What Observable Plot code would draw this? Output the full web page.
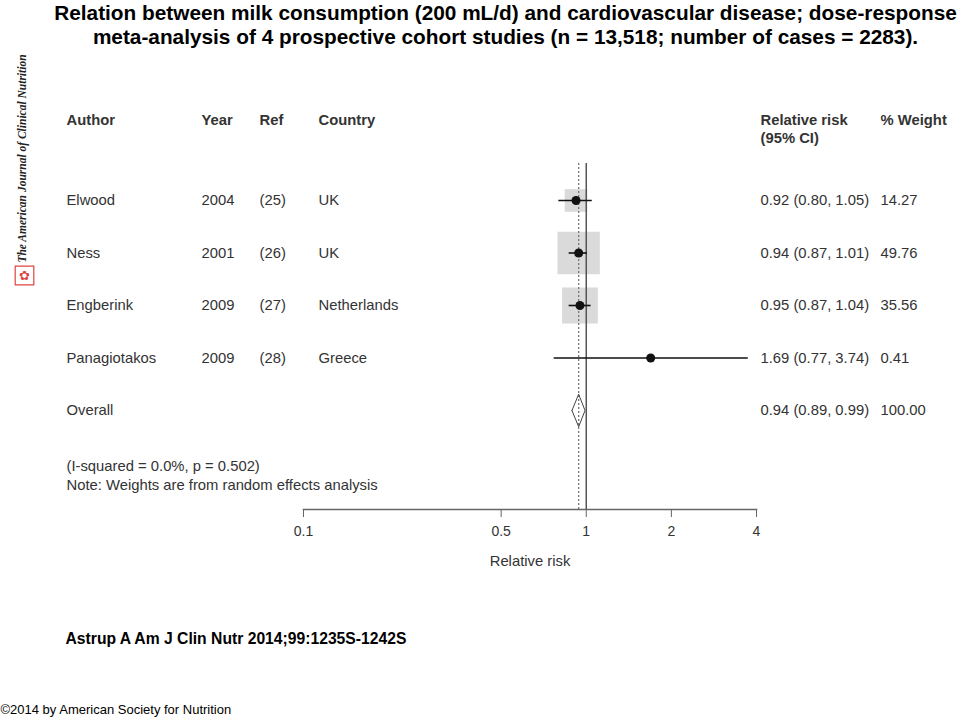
<!DOCTYPE html>
<html><head><meta charset="utf-8">
<script src="https://cdn.jsdelivr.net/npm/d3@7"></script>
<script src="https://cdn.jsdelivr.net/npm/@observablehq/plot@0.6"></script>
<style>body{margin:0;background:#fff;}</style>
</head><body><div id="chart"></div>
<script>
// ---- data ----
const authors = ["Elwood", "Ness", "Engberink", "Panagiotakos"];
const years = [2004, 2001, 2009, 2009];
const refs = ["(25)", "(26)", "(27)", "(28)"];
const countries = ["UK", "UK", "Netherlands", "Greece"];
const rr = [0.92, 0.94, 0.95, 1.69];
const lo = [0.80, 0.87, 0.87, 0.77];
const hi = [1.05, 1.01, 1.04, 3.74];
const weights = [14.27, 49.76, 35.56, 0.41];
const overallRR = 0.94, overallLo = 0.89, overallHi = 0.99, overallWeight = 100.00;
const xTicks = [0.1, 0.5, 1, 2, 4];
const xTickLabels = ["0.1", "0.5", "1", "2", "4"];
const titleText = "Relation between milk consumption (200 mL/d) and cardiovascular disease; dose-response\nmeta-analysis of 4 prospective cohort studies (n = 13,518; number of cases = 2283).";
const heterogeneity = "(I-squared = 0.0%, p = 0.502)";
const noteText = "Note: Weights are from random effects analysis";
const citation = "Astrup A Am J Clin Nutr 2014;99:1235S-1242S";
const copyright = "©2014 by American Society for Nutrition";
const journal = "The American Journal of Clinical Nutrition";

// ---- layout ----
const W = 960, H = 717;
const FL = 303, FR = 756, FT = 163, FB = 509;
const col = {author: 66, year: 201, ref: 259, country: 318, ci: 760, wt: 880};
const f2 = v => v.toFixed(2);

const studies = authors.map((a, i) => ({
  i, author: a, year: String(years[i]), ref: refs[i], country: countries[i],
  rr: rr[i], lo: lo[i], hi: hi[i], w: weights[i],
  ci: `${f2(rr[i])} (${f2(lo[i])}, ${f2(hi[i])})`, wt: f2(weights[i])
}));
const oi = authors.length;
const tableRows = [...studies, {i: oi, author: "Overall", year: "", ref: "", country: "",
  ci: `${f2(overallRR)} (${f2(overallLo)}, ${f2(overallHi)})`, wt: f2(overallWeight)}];
const dh = 0.31;
const diamond = [
  {x: overallLo, y: oi}, {x: overallRR, y: oi - dh}, {x: overallHi, y: oi},
  {x: overallRR, y: oi + dh}, {x: overallLo, y: oi}
];

const txt = "#333";
const fs = 14.8;
const font = "'Liberation Sans', Arial, Helvetica, sans-serif";
const colText = (key, opts = {}) => Plot.text(tableRows, {
  y: "i", text: key, frameAnchor: "left", dx: col[key] - FL,
  textAnchor: "start", lineAnchor: "middle", fontSize: fs, fill: txt, ...opts
});
const free = (s, px, py, opts = {}) => Plot.text([s], {
  frameAnchor: "top-left", dx: px - FL, dy: py - FT,
  textAnchor: "start", lineAnchor: "middle", fontSize: fs, fill: txt, ...opts
});

const chart = Plot.plot({
  width: W, height: H,
  marginLeft: FL, marginRight: W - FR, marginTop: FT, marginBottom: H - FB,
  style: {fontFamily: font, background: "#fff"},
  x: {type: "log", domain: [0.1, 4], axis: null},
  y: {type: "linear", domain: [0, oi], range: [200, 410], axis: null},
  r: {type: "sqrt", domain: [0, 100], range: [0, 33.85]},
  marks: [
    // weight boxes
    Plot.dot(studies, {x: "rr", y: "i", r: "w", symbol: "square", fill: "#dadada", stroke: "none"}),
    // reference lines
    Plot.ruleX([1], {stroke: "#555", strokeWidth: 1.5}),
    Plot.ruleX([overallRR], {stroke: "#777", strokeWidth: 1.3, strokeDasharray: "2,2"}),
    // confidence intervals and estimates
    Plot.ruleY(studies, {y: "i", x1: "lo", x2: "hi", stroke: "#111", strokeWidth: 1.6}),
    Plot.dot(studies, {x: "rr", y: "i", r: 4.5, fill: "#111", stroke: "none"}),
    // overall diamond
    Plot.line(diamond, {x: "x", y: "y", stroke: "#444", strokeWidth: 1, curve: "linear"}),
    // axis
    Plot.frame({anchor: "bottom", stroke: "#666", strokeWidth: 1.6}),
    Plot.axisX({ticks: xTicks, tickSize: 8, tickPadding: 9, fontSize: 14, stroke: "#666", color: txt,
      tickFormat: d => xTickLabels[xTicks.indexOf(d)], label: null}),
    Plot.text(["Relative risk"], {frameAnchor: "bottom", dy: 52, fontSize: fs, fill: txt, lineAnchor: "middle"}),
    // table
    colText("author"), colText("year"), colText("ref"), colText("country"),
    colText("ci"), colText("wt"),
    free("Author", col.author, 120, {fontWeight: "bold"}),
    free("Year", col.year, 120, {fontWeight: "bold"}),
    free("Ref", col.ref, 120, {fontWeight: "bold"}),
    free("Country", col.country, 120, {fontWeight: "bold"}),
    free("Relative risk", col.ci, 120, {fontWeight: "bold"}),
    free("(95% CI)", col.ci, 138, {fontWeight: "bold"}),
    free("% Weight", col.wt, 120, {fontWeight: "bold"}),
    free(heterogeneity, col.author, 466),
    free(noteText, col.author, 485),
    // title & captions
    Plot.text([titleText], {frameAnchor: "top-left", dx: 505 - FL, dy: 23.5 - FT, textAnchor: "middle",
      lineAnchor: "middle", lineHeight: 1.2, fontSize: 20.8, fontWeight: "bold", fill: "#000"}),
    free(citation, 65, 638, {fontSize: 15.7, fontWeight: "bold", fill: "#000"}),
    free(copyright, 0, 709, {fontSize: 13, fill: "#000"}),
    // journal side label and logo
    Plot.text([journal], {frameAnchor: "top-left", dx: 22 - FL, dy: 158 - FT, rotate: -90,
      textAnchor: "middle", lineAnchor: "middle", fontSize: 11.5, fontStyle: "italic", fontWeight: "bold",
      fontFamily: "'Liberation Serif', 'DejaVu Serif', serif", fill: "#222"}),
    Plot.dot([0], {frameAnchor: "top-left", dx: 24 - FL, dy: 275 - FT, symbol: "square", r: 10.5,
      fill: "#fff", stroke: "#d44", strokeWidth: 1.2}),
    Plot.text(["✿"], {frameAnchor: "top-left", dx: 24 - FL, dy: 275 - FT, textAnchor: "middle",
      lineAnchor: "middle", fontSize: 13, fill: "#d44", fontFamily: "'DejaVu Sans', sans-serif"})
  ]
});
document.getElementById("chart").appendChild(chart);
</script>
</body></html>
